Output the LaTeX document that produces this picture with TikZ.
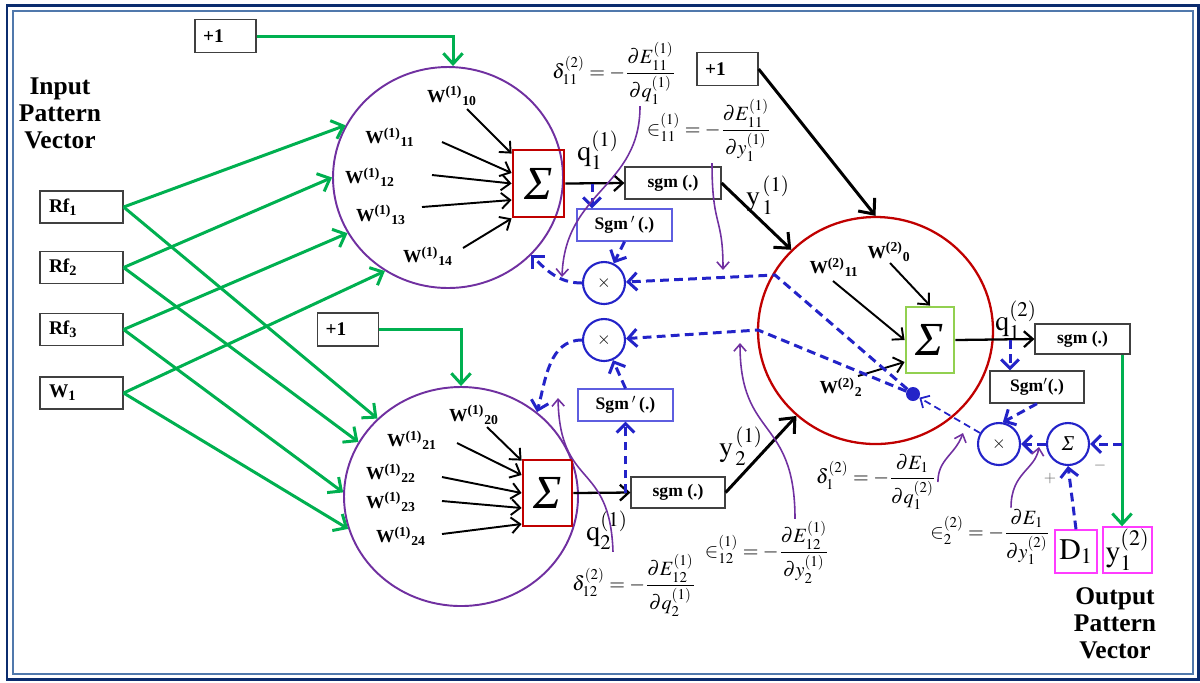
\documentclass[tikz,border=0pt]{standalone}
\usepackage{amsmath}
\usepackage{mathptmx}
\usepackage{fontspec}
\setmainfont{Liberation Serif}
\usepackage{tikz}
\usetikzlibrary{arrows.meta, positioning, calc, shapes.geometric}
\usepackage{xcolor}
\definecolor{nngreen}{HTML}{00B050}
\definecolor{nnpurple}{HTML}{7030A0}
\definecolor{nnred}{HTML}{C00000}
\definecolor{nnlime}{HTML}{92D050}
\definecolor{nnblue}{HTML}{2323C8}
\definecolor{nnviolet}{HTML}{5E5EE0}
\definecolor{nnpink}{HTML}{FF3CFF}
\definecolor{nnnavy}{HTML}{0B2C6E}
\definecolor{nnsteel}{HTML}{5078AC}
\newcommand{\wlab}[2]{W\textsuperscript{(#1)}\textsubscript{#2}}

\begin{document}
\begin{tikzpicture}[
    box/.style={draw=black!75, line width=0.7pt, inner sep=0pt,
                font=\bfseries\fontsize{10}{12}\selectfont},
    inbox/.style={draw=black!75, line width=0.7pt, minimum height=0.64cm,
                  text width=1.3cm, inner xsep=0.18cm, inner ysep=0pt,
                  align=left, font=\bfseries\fontsize{11}{12}\selectfont},
    plusbox/.style={inbox, minimum height=0.66cm, text width=0.9cm, inner xsep=0.16cm},
    neuron/.style={ellipse, line width=1.1pt, inner sep=0pt},
    sumbox/.style={line width=1.6pt, inner sep=0pt,
                   font=\itshape\fontsize{27}{27}\selectfont},
    opcirc/.style={circle, draw=nnblue, line width=1.2pt, minimum size=0.84cm, inner sep=0pt},
    pinkbox/.style={draw=nnpink, line width=0.8pt, inner sep=0pt,
                    font=\fontsize{17}{17}\selectfont},
    wlabel/.style={font=\bfseries\fontsize{10.5}{12}\selectfont, inner sep=0pt},
    sig/.style={font=\fontsize{16}{16}\selectfont, inner sep=0pt},
    eqn/.style={font=\fontsize{11.5}{13}\selectfont, inner sep=1pt},
    garr/.style={-{Straight Barb[length=6pt,width=11pt]}, nngreen, line width=1.7pt},
    karr/.style={-{Straight Barb[length=5pt,width=9pt]}, line width=1.1pt},
    bigarr/.style={-{Straight Barb[length=7pt,width=12pt]}, line width=1.7pt},
    bdash/.style={-{Straight Barb[length=5pt,width=10pt]}, nnblue, line width=1.7pt,
                  dash pattern=on 5pt off 3pt},
    parr/.style={-{Straight Barb[length=4pt,width=7pt]}, nnpurple, line width=0.9pt}
  ]
    \useasboundingbox (0,0) rectangle (24,-13.64);
    % frame
    \draw[nnnavy, line width=1.7pt] (0.14,-0.10) rectangle (23.96,-13.58);
    \draw[nnsteel, line width=1.1pt] (0.26,-0.22) rectangle (23.86,-13.48);

    % inputs
    \node[align=center, font=\bfseries\fontsize{14.5}{15.4}\selectfont] (inlbl) at (1.2,-2.26)
      {Input\\Pattern\\Vector};
    \node[inbox] (rf1) at (1.63,-4.14) {Rf\textsubscript{1}};
    \node[inbox] (rf2) at (1.63,-5.35) {Rf\textsubscript{2}};
    \node[inbox] (rf3) at (1.63,-6.59) {Rf\textsubscript{3}};
    \node[inbox] (w1) at (1.63,-7.86) {W\textsubscript{1}};
    \node[plusbox] (plusA) at (4.51,-0.72) {+1};
    \node[plusbox] (plusC) at (6.96,-6.59) {+1};
    \node[plusbox] (plusB) at (14.55,-1.38) {+1};

    % neurons
    \node[neuron, draw=nnpurple, minimum width=4.6cm, minimum height=4.42cm] (hidA) at (8.96,-3.55) {};
    \node[neuron, draw=nnpurple, minimum width=4.68cm, minimum height=4.38cm] (hidB) at (9.22,-9.93) {};
    \node[neuron, draw=nnred, line width=1.3pt, minimum width=4.7cm, minimum height=4.54cm] (outC) at (17.51,-6.61) {};
    \node[sumbox, draw=nnred, minimum width=1.02cm, minimum height=1.34cm] (sumA) at (10.77,-3.67) {Σ};
    \node[sumbox, draw=nnred, minimum width=0.98cm, minimum height=1.32cm] (sumB) at (10.95,-9.86) {Σ};
    \node[sumbox, draw=nnlime, minimum width=0.96cm, minimum height=1.32cm] (sumC) at (18.6,-6.8) {Σ};

    % weights
    \node[wlabel] (wA0) at (9.04,-1.92) {\wlab{1}{10}};
    \node[wlabel] (wA1) at (7.8,-2.74) {\wlab{1}{11}};
    \node[wlabel] (wA2) at (7.4,-3.54) {\wlab{1}{12}};
    \node[wlabel] (wA3) at (7.62,-4.3) {\wlab{1}{13}};
    \node[wlabel] (wA4) at (8.56,-5.12) {\wlab{1}{14}};
    \node[wlabel] (wB0) at (9.48,-8.3) {\wlab{1}{20}};
    \node[wlabel] (wB1) at (8.24,-8.8) {\wlab{1}{21}};
    \node[wlabel] (wB2) at (7.82,-9.46) {\wlab{1}{22}};
    \node[wlabel] (wB3) at (7.82,-10.04) {\wlab{1}{23}};
    \node[wlabel] (wB4) at (8.02,-10.72) {\wlab{1}{24}};
    \node[wlabel] (wC1) at (16.68,-5.34) {\wlab{2}{11}};
    \node[wlabel] (wC0) at (17.78,-5.04) {\wlab{2}{0}};
    \node[wlabel] (wC2) at (16.82,-7.74) {\wlab{2}{2}};
    \coordinate (tA0) at (9.34,-2.18);
    \coordinate (tA1) at (8.84,-2.84);
    \coordinate (tA2) at (8.64,-3.5);
    \coordinate (tA3) at (8.44,-4.14);
    \coordinate (tA4) at (9.26,-4.96);
    \coordinate (tB0) at (9.74,-8.54);
    \coordinate (tB1) at (9.14,-8.86);
    \coordinate (tB2) at (8.84,-9.54);
    \coordinate (tB3) at (8.84,-10.02);
    \coordinate (tB4) at (8.84,-10.68);
    \coordinate (tC1) at (16.66,-5.62);
    \coordinate (tC0) at (17.8,-5.26);
    \coordinate (tC2) at (17.16,-7.52);
    \draw[karr] (tA0) -- ([yshift=-0.1cm]sumA.north west);
    \draw[karr] (tA1) -- ([yshift=0.21cm]sumA.west);
    \draw[karr] (tA2) -- (sumA.west);
    \draw[karr] (tA3) -- ([yshift=-0.33cm]sumA.west);
    \draw[karr] (tA4) -- (sumA.south west);
    \draw[karr] (tB0) -- ([yshift=-0.04cm]sumB.north west);
    \draw[karr] (tB1) -- ([yshift=0.36cm]sumB.west);
    \draw[karr] (tB2) -- (sumB.west);
    \draw[karr] (tB3) -- ([yshift=-0.3cm]sumB.west);
    \draw[karr] (tB4) -- ([yshift=-0.62cm]sumB.west);
    \draw[karr] (tC1) -- (sumC.west);
    \draw[karr] (tC0) -- (sumC.north);
    \draw[karr] (tC2) -- ([yshift=-0.44cm]sumC.west);

    % activation boxes
    \node[box, minimum width=1.92cm, minimum height=0.64cm] (sgmA) at (13.46,-3.66) {sgm (.)};
    \node[box, minimum width=1.88cm, minimum height=0.62cm] (sgmB) at (13.56,-9.85) {sgm (.)};
    \node[box, minimum width=1.9cm, minimum height=0.6cm] (sgmC) at (21.65,-6.78) {sgm (.)};
    \node[box, draw=nnviolet, minimum width=1.9cm, minimum height=0.64cm] (dsgmA) at (12.49,-4.5) {Sgm\,$'$\,(.)};
    \node[box, draw=nnviolet, minimum width=1.9cm, minimum height=0.64cm] (dsgmB) at (12.51,-8.1) {Sgm\,$'$\,(.)};
    \node[box, minimum width=1.88cm, minimum height=0.64cm] (dsgmC) at (20.74,-7.74) {Sgm$'$(.)};

    \node[sig] (qA) at (11.96,-3.0) {$\mathrm{q}_1^{(1)}$};
    \node[sig] (yA) at (15.36,-3.9) {$\mathrm{y}_{\,1}^{\,(1)}$};
    \node[sig] (yB) at (14.82,-8.92) {$\mathrm{y}_{\,2}^{\,(1)}$};
    \node[sig] (qB) at (12.14,-10.6) {$\mathrm{q}_2^{(1)}$};
    \node[sig] (qC) at (20.32,-6.4) {$\mathrm{q}_1^{(2)}$};

    % error path
    \node[opcirc, font=\fontsize{10}{10}\selectfont] (mulA) at (12.08,-5.66) {$\times$};
    \node[opcirc, font=\fontsize{10}{10}\selectfont] (mulB) at (12.08,-6.8) {$\times$};
    \node[opcirc, font=\fontsize{10}{10}\selectfont] (mulC) at (19.98,-8.88) {$\times$};
    \node[opcirc, font=\itshape\fontsize{12}{12}\selectfont] (addC) at (21.36,-8.88) {Σ};
    \node[circle, fill=nnblue, minimum size=0.28cm, inner sep=0pt] (jn) at (18.26,-7.88) {};
    \node[font=\fontsize{9}{9}\selectfont, text=black!60] (minus) at (22.0,-9.32) {$-$};
    \node[font=\fontsize{9}{9}\selectfont, text=black!60] (plus) at (21.0,-9.58) {$+$};
    \node[pinkbox, minimum width=0.84cm, minimum height=0.86cm] (dout) at (21.52,-11.03) {$\mathrm{D}_1$};
    \node[pinkbox, minimum width=0.98cm, minimum height=0.92cm] (yout) at (22.55,-11.0) {$\mathrm{y}_1^{(2)}$};
    \node[align=center, font=\bfseries\fontsize{14.5}{15.4}\selectfont] (outlbl) at (22.3,-12.46)
      {Output\\Pattern\\Vector};

    % formulas
    \node[eqn] (dA) at (12.28,-1.46)
      {$\delta_{11}^{(2)} = -\dfrac{\partial E_{11}^{(1)}}{\partial q_1^{(1)}}$};
    \node[eqn] (eA) at (14.18,-2.6)
      {${\in}_{11}^{(1)} = -\dfrac{\partial E_{11}^{(1)}}{\partial y_1^{(1)}}$};
    \node[eqn] (dB) at (12.68,-11.7)
      {$\delta_{12}^{(2)} = -\dfrac{\partial E_{12}^{(1)}}{\partial q_2^{(1)}}$};
    \node[eqn] (eB) at (15.34,-11.04)
      {${\in}_{12}^{(1)} = -\dfrac{\partial E_{12}^{(1)}}{\partial y_2^{(1)}}$};
    \node[eqn] (dC) at (17.52,-9.64)
      {$\delta_{1}^{(2)} = -\dfrac{\partial E_{1}}{\partial q_1^{(2)}}$};
    \node[eqn] (eC) at (19.8,-10.74)
      {${\in}_{2}^{(2)} = -\dfrac{\partial E_{1}}{\partial y_1^{(2)}}$};

    % forward connections
    \draw[garr] (plusA.east) -| ([xshift=0.1cm]hidA.north);
    \draw[garr] (plusC.east) -| (hidB.north);
    \draw[garr] (rf1.east) -- (hidA.153);
    \draw[garr] (rf2.east) -- (hidA.west);
    \draw[garr] (rf3.east) -- (hidA.209);
    \draw[garr] (w1.east) -- (hidA.236);
    \draw[garr] (rf1.east) -- (hidB.137);
    \draw[garr] (rf2.east) -- (hidB.152);
    \draw[garr] (rf3.east) -- (hidB.178);
    \draw[garr] (w1.east) -- (hidB.196);
    \draw[karr, line width=1.3pt] (sumA.east) -- (sgmA.west);
    \draw[karr, line width=1.3pt] (sumB.east) -- (sgmB.west);
    \draw[karr, line width=1.3pt] (sumC.east) -- (sgmC.west);
    \draw[bigarr] (sgmA.east) -- (outC);
    \draw[bigarr] (sgmB.east) -- (outC);
    \draw[bigarr] (plusB.east) -- (outC.north);
    \coordinate (tap) at (22.44,-8.88);
    \draw[garr] (sgmC.south -| tap) -- (yout.north -| tap);

    % backward connections
    \coordinate (qtapA) at (11.84,-3.67);
    \coordinate (qtapC) at (20.2,-6.8);
    \coordinate (edgA) at (15.5,-5.5);
    \coordinate (edgB) at (15.16,-6.6);
    \draw[bdash] (tap) -- (addC.east);
    \draw[bdash] (dout.north) -- (addC.south);
    \draw[bdash] (addC.west) -- (mulC.east);
    \draw[bdash] (qtapC) -- (qtapC |- dsgmC.north);
    \draw[bdash] (dsgmC.south) -- (mulC.80);
    \draw[-{Straight Barb[length=4pt,width=8pt]}, nnblue, line width=1pt,
          dash pattern=on 4pt off 2.5pt] (mulC) -- (jn);
    \draw[bdash] (jn) -- (edgA) -- (mulA);
    \draw[bdash] (jn) -- (edgB) -- (mulB);
    \draw[bdash] (qtapA) -- (qtapA |- dsgmA.north);
    \draw[bdash] (dsgmA.south) -- (mulA);
    \draw[bdash] (mulA.west) to[out=180, in=-45] (hidA.-43);
    \draw[bdash] (dsgmB.south |- sgmB.west) -- (dsgmB.south);
    \draw[bdash] (dsgmB.north) -- (mulB);
    \draw[bdash] (mulB.west) to[out=180, in=75] (hidB.48);

    % pointers from the formulas
    \coordinate (pA) at (11.24,-5.54);
    \coordinate (pB) at (14.46,-5.4);
    \coordinate (pC) at (11.16,-7.96);
    \coordinate (pD) at (14.8,-6.86);
    \coordinate (pE) at (19.26,-8.66);
    \coordinate (pF) at (20.78,-8.94);
    \draw[parr] ([xshift=0.52cm]dA.south) .. controls +(0,-1.64) and +(0.06,1.74) .. (pA);
    \draw[parr] ([xshift=0.06cm]eA.south) .. controls +(0,-1.3) and +(0,1.1) .. (pB);
    \draw[parr] ([xshift=-0.42cm]dB.north) .. controls +(-0.06,1.84) and +(0.04,-1.84) .. (pC);
    \draw[parr] ([xshift=0.56cm]eB.north) .. controls +(0,2.06) and +(0,-1.94) .. (pD);
    \draw[parr] (dC.east) .. controls +(0,0.46) and +(-0.16,-0.44) .. (pE);
    \draw[parr] ([xshift=0.42cm]eC.north) .. controls +(0,0.7) and +(-0.08,-0.46) .. (pF);
  \end{tikzpicture}
\end{document}
